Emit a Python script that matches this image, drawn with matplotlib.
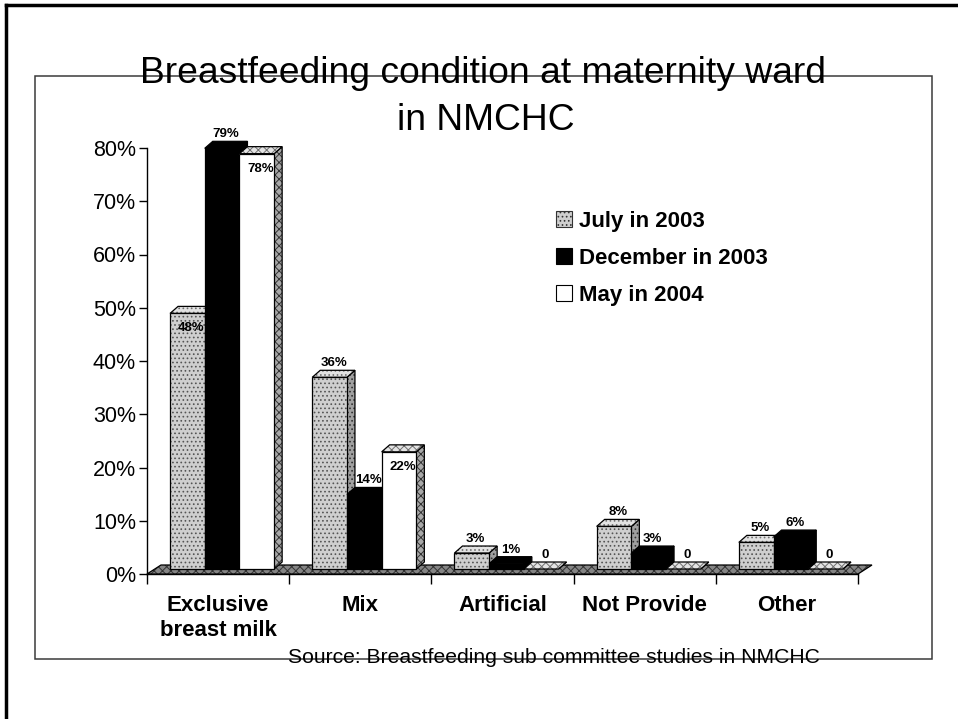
import matplotlib
matplotlib.use("Agg")
import matplotlib.pyplot as plt
from matplotlib.patches import Polygon, Rectangle, Patch
from matplotlib.lines import Line2D

# chart data
categories = ["Exclusive\nbreast milk", "Mix", "Artificial", "Not Provide", "Other"]
series_names = ["July in 2003", "December in 2003", "May in 2004"]
july_2003 = [48, 36, 3, 8, 5]
dec_2003 = [79, 14, 1, 3, 6]
may_2004 = [78, 22, 0, 0, 0]
y_ticks = [0, 10, 20, 30, 40, 50, 60, 70, 80]
title_lines = ["Breastfeeding condition at maternity ward", "in NMCHC"]
source_text = "Source: Breastfeeding sub committee studies in NMCHC"

plt.rcParams['font.family'] = ['Liberation Sans', 'DejaVu Sans']
plt.rcParams['hatch.linewidth'] = 0.7

W, H = 958, 719
fig = plt.figure(figsize=(W / 100, H / 100), dpi=100)


def fx(px):
    return px / W


def fy(py):
    return 1 - py / H


ax = fig.add_axes([fx(147), fy(574), fx(858) - fx(147), fy(148) - fy(574)])
ax.set_xlim(0, len(categories))
ax.set_ylim(0, 80)
ax.patch.set_visible(False)

# pixel -> data unit helpers for the fake 3d look
ux = 1 / 142.2
uy = 1 / 5.325
dx, dy = 8 * ux, 7 * uy          # bar depth
ox, oy = 4 * ux, 5 * uy          # bar position inside the floor
fdx, fdy = 14 * ux, 9 * uy       # floor depth
bw = 0.244

# series styles: front, side, top
styles = [
    dict(front=('#cfcfcf', '....', '#555555'), side=('#a0a0a0', '....', '#333333'),
         top=('#e2e2e2', '....', '#707070')),
    dict(front=('black', None, 'black'), side=('black', None, 'black'),
         top=('black', None, 'black')),
    dict(front=('white', None, 'white'), side=('#a8a8a8', 'xxxx', '#333333'),
         top=('#e4e4e4', 'xxxx', '#707070')),
]


def face(pts, fc, hatch, hc, z):
    ax.add_patch(Polygon(pts, closed=True, facecolor=fc, hatch=hatch, edgecolor=hc,
                         lw=0, clip_on=False, zorder=z))
    ax.add_patch(Polygon(pts, closed=True, fill=False, edgecolor='black', lw=0.9,
                         clip_on=False, zorder=z + 0.01))


# floor
n = len(categories)
face([(0, 0), (n, 0), (n + fdx, fdy), (fdx, fdy)], '#858585', 'xxxx', '#333333', 1)

inside = {(0, 0), (2, 0), (2, 1)}
series = [july_2003, dec_2003, may_2004]
z = 2
for c in range(n):
    center = c + 0.5
    for s, vals in enumerate(series):
        v = vals[c]
        x0 = center - 1.5 * bw + s * bw + ox
        y0 = oy
        y1 = oy + v
        st = styles[s]
        face([(x0 + bw, y0), (x0 + bw + dx, y0 + dy), (x0 + bw + dx, y1 + dy), (x0 + bw, y1)],
             *st['side'], z)
        face([(x0, y1), (x0 + bw, y1), (x0 + bw + dx, y1 + dy), (x0 + dx, y1 + dy)],
             *st['top'], z + 0.1)
        if v > 0:
            face([(x0, y0), (x0 + bw, y0), (x0 + bw, y1), (x0, y1)], *st['front'], z + 0.2)
        z += 1
        label = f"{v}%" if v else "0"
        if (s, c) in inside:
            ty = y1 - 15 * uy
        else:
            ty = y1 + 14 * uy
        ax.text(x0 + bw / 2 + dx / 2, ty, label, ha='center', va='center',
                fontsize=9.5, fontweight='bold', zorder=100, clip_on=False)

# axes
for side in ['top', 'right']:
    ax.spines[side].set_visible(False)
ax.spines['left'].set_linewidth(1)
ax.spines['bottom'].set_linewidth(1)
ax.spines['bottom'].set_zorder(0.5)
ax.set_yticks(y_ticks)
ax.set_yticklabels([f"{t}%" for t in y_ticks], fontsize=15.5)
ax.tick_params(axis='y', direction='out', length=6, width=1, pad=2)
ax.set_xticks(range(n + 1))
ax.set_xticklabels([""] * (n + 1))
ax.tick_params(axis='x', which='major', direction='out', length=7, width=1)
ax.set_xticks([c + 0.5 for c in range(n)], minor=True)
ax.set_xticklabels(categories, minor=True, fontsize=16, fontweight='bold')
ax.tick_params(axis='x', which='minor', length=0, pad=15)
for t in ax.get_xticklabels(minor=True):
    t.set_linespacing(1.25)

# legend
handles = [
    Patch(facecolor='#cfcfcf', hatch='....', edgecolor='#333333', lw=0.8),
    Patch(facecolor='black', edgecolor='black', lw=0.8),
    Patch(facecolor='white', edgecolor='black', lw=0.8),
]
fig.legend(handles, series_names, loc='upper left', bbox_to_anchor=(fx(556), fy(211)),
           frameon=False, prop=dict(weight='bold', size=16), handlelength=0.7,
           handleheight=0.7, handletextpad=0.35, labelspacing=0.72, borderpad=0,
           borderaxespad=0)

# frames
fig.add_artist(Rectangle((fx(35), fy(659)), fx(932) - fx(35), fy(76) - fy(659),
                         transform=fig.transFigure, fill=False, lw=1.1, edgecolor='#3a3a3a',
                         zorder=0))
fig.add_artist(Line2D([fx(6), fx(6)], [fy(5), 0], lw=2.5, color='black'))
fig.add_artist(Line2D([fx(6), 1], [fy(5), fy(5)], lw=2.5, color='black'))

# titles and source
fig.text(fx(483), fy(83), title_lines[0], ha='center', va='baseline', fontsize=26.8)
fig.text(fx(486), fy(130), title_lines[1], ha='center', va='baseline', fontsize=26.8)
fig.text(fx(288), fy(663), source_text, ha='left', va='baseline', fontsize=15.2)

fig.savefig("out.png", dpi=100)
